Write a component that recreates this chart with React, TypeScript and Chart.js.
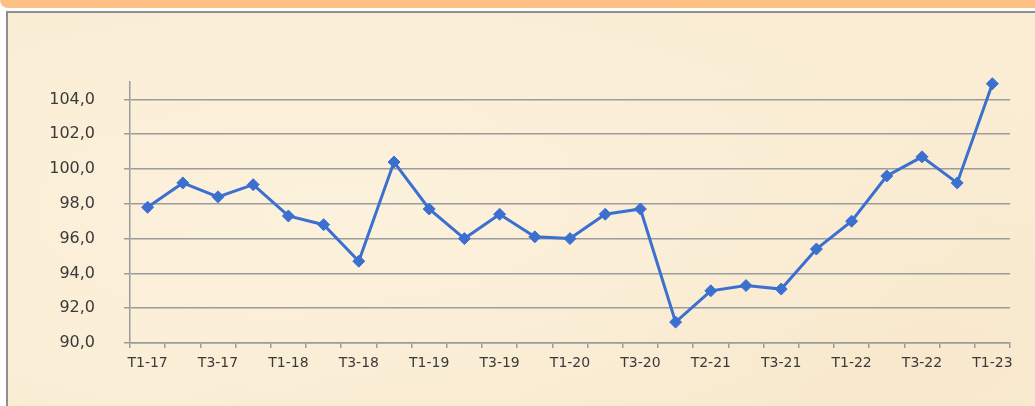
import React, { useEffect, useRef } from "react";
import { Chart, registerables } from "chart.js";

Chart.register(...registerables);

const categories = [
  "T1-17", "T2-17", "T3-17", "T4-17",
  "T1-18", "T2-18", "T3-18", "T4-18",
  "T1-19", "T2-19", "T3-19", "T4-19",
  "T1-20", "T2-20", "T3-20", "T4-20",
  "T1-21", "T2-21", "T3-21", "T4-21",
  "T1-22", "T2-22", "T3-22", "T4-22",
  "T1-23",
];

const tickLabels = [
  "T1-17", "T3-17", "T1-18", "T3-18", "T1-19", "T3-19", "T1-20",
  "T3-20", "T2-21", "T3-21", "T1-22", "T3-22", "T1-23",
];

const values = [
  97.8, 99.2, 98.4, 99.1,
  97.3, 96.8, 94.7, 100.4,
  97.7, 96.0, 97.4, 96.1,
  96.0, 97.4, 97.7, 91.2,
  93.0, 93.3, 93.1, 95.4,
  97.0, 99.6, 100.7, 99.2,
  104.9,
];

const yTickValues = [90, 92, 94, 96, 98, 100, 102, 104];
const yMin = 90;
const yMax = 105;

export default function App() {
  const ref = useRef<HTMLCanvasElement | null>(null);

  useEffect(() => {
    if (!ref.current) return;
    const lineColor = "#3b6fd0";
    const gridColor = "#9c9c9c";
    const textColor = "#3a3a3a";
    const chart = new Chart(ref.current, {
      type: "line",
      data: {
        labels: categories,
        datasets: [
          {
            data: values,
            borderColor: lineColor,
            backgroundColor: lineColor,
            borderWidth: 3,
            pointStyle: "rectRot",
            pointRadius: 6,
            pointBorderWidth: 1,
            pointBackgroundColor: lineColor,
            pointBorderColor: lineColor,
            tension: 0,
            fill: false,
            clip: false,
          },
        ],
      },
      options: {
        responsive: false,
        animation: false,
        devicePixelRatio: 1,
        layout: { padding: { left: 0, right: 25, top: 82, bottom: 0 } },
        plugins: {
          legend: { display: false },
          tooltip: { enabled: false },
        },
        scales: {
          x: {
            type: "category",
            offset: true,
            grid: {
              offset: true,
              drawOnChartArea: false,
              drawTicks: true,
              tickLength: 5,
              color: gridColor,
              lineWidth: 1.5,
            },
            border: { display: true, color: gridColor, width: 1.5 },
            ticks: {
              autoSkip: false,
              maxRotation: 0,
              minRotation: 0,
              padding: 7,
              color: textColor,
              font: { family: "'DejaVu Sans', sans-serif", size: 14 },
              callback: (_v: any, i: number) => (i % 2 === 0 ? tickLabels[i / 2] : ""),
            },
            afterFit: (scale: any) => {
              scale.height = 63;
            },
          },
          y: {
            min: yMin,
            max: yMax,
            grid: {
              color: gridColor,
              lineWidth: 1.5,
              tickLength: 6,
              drawTicks: true,
            },
            border: { display: true, color: gridColor, width: 1.5 },
            ticks: {
              autoSkip: false,
              padding: 29,
              color: textColor,
              font: { family: "'DejaVu Sans', sans-serif", size: 16 },
              callback: (v: any) => Number(v).toFixed(1).replace(".", ","),
            },
            afterBuildTicks: (scale: any) => {
              scale.ticks = yTickValues.map((v) => ({ value: v }));
            },
            afterFit: (scale: any) => {
              scale.width = 130;
            },
          },
        },
      },
    });
    return () => chart.destroy();
  }, []);

  return (
    <div
      style={{
        position: "fixed",
        left: 0,
        top: 0,
        width: 1035,
        height: 406,
        overflow: "hidden",
        background: "#ffffff",
      }}
    >
      <div
        style={{
          position: "absolute",
          left: 0,
          top: 0,
          width: 1035,
          height: 8,
          background: "#fdbf82",
          borderBottomLeftRadius: 18,
        }}
      />
      <div
        style={{
          position: "absolute",
          left: 6,
          top: 11,
          width: 1100,
          height: 500,
          borderTop: "2px solid #8e8e8e",
          borderLeft: "2px solid #8e8e8e",
          background:
            "radial-gradient(ellipse at 30% 40%, #fcf1dc 0%, rgba(252,241,220,0) 60%), radial-gradient(ellipse at 80% 70%, #f8e9cd 0%, rgba(248,233,205,0) 60%), #faedd4",
        }}
      />
      <canvas
        ref={ref}
        width={1035}
        height={406}
        style={{ position: "absolute", left: 0, top: 0, width: 1035, height: 406 }}
      />
    </div>
  );
}
